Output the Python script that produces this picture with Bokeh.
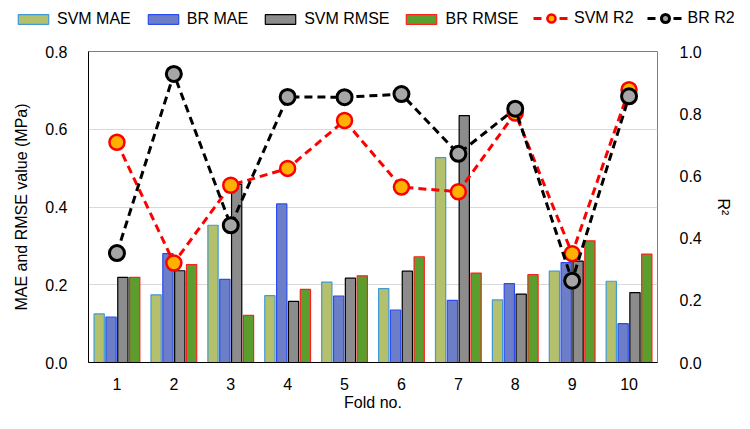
from bokeh.plotting import figure
from bokeh.models import (Range1d, LinearAxis, Legend, LegendItem, ColumnDataSource,
                          FixedTicker, PrintfTickFormatter)
from bokeh.transform import dodge
from bokeh.embed import file_html
from bokeh.resources import INLINE

folds = [1, 2, 3, 4, 5, 6, 7, 8, 9, 10]
fold_labels = ["1", "2", "3", "4", "5", "6", "7", "8", "9", "10"]
svm_mae = [0.125, 0.174, 0.353, 0.172, 0.207, 0.190, 0.527, 0.161, 0.235, 0.209]
br_mae = [0.117, 0.280, 0.214, 0.408, 0.171, 0.135, 0.160, 0.203, 0.257, 0.100]
svm_rmse = [0.219, 0.236, 0.458, 0.157, 0.217, 0.235, 0.635, 0.176, 0.261, 0.180]
br_rmse = [0.219, 0.252, 0.121, 0.188, 0.223, 0.272, 0.230, 0.226, 0.313, 0.279]
svm_r2 = [0.708, 0.320, 0.570, 0.624, 0.778, 0.564, 0.549, 0.802, 0.350, 0.877]
br_r2 = [0.352, 0.928, 0.441, 0.854, 0.853, 0.863, 0.671, 0.816, 0.263, 0.856]
series_names = ["SVM MAE", "BR MAE", "SVM RMSE", "BR RMSE", "SVM R2", "BR R2"]

src = ColumnDataSource(dict(fold=folds, svm_mae=svm_mae, br_mae=br_mae,
                            svm_rmse=svm_rmse, br_rmse=br_rmse,
                            svm_r2=svm_r2, br_r2=br_r2))

FONT = "Liberation Sans"
BAR_STYLES = [
    dict(fill_color="#b4c06c", line_color="#3f9ad6"),
    dict(fill_color="#6d7ec8", line_color="#2b4cf0"),
    dict(fill_color="#8c8c8c", line_color="#000000"),
    dict(fill_color="#5c9e2e", line_color="#ff2020"),
]
LINE_STYLES = [
    (dict(line_color="#ff0000", line_width=3, line_dash="8 5"),
     dict(fill_color="#ffb000", line_color="#ff0000", line_width=2.5)),
    (dict(line_color="#000000", line_width=3, line_dash="8 5"),
     dict(fill_color="#a6a6a6", line_color="#000000", line_width=3)),
]
bar_cols = ["svm_mae", "br_mae", "svm_rmse", "br_rmse"]
line_cols = ["svm_r2", "br_r2"]

W, H = 734, 413
LEG_H = 36
BL, BR = 88, 69

# ---------------- main chart ----------------
p = figure(width=W, height=H - LEG_H, x_range=Range1d(0.5, 10.5), y_range=Range1d(0, 0.8),
           output_backend="svg", toolbar_location=None,
           min_border_left=BL, min_border_right=BR, min_border_top=51 - LEG_H,
           min_border_bottom=51)
p.extra_y_ranges = {"r2": Range1d(0, 1.0)}

p.outline_line_color = "#7f7f7f"
p.outline_line_width = 1
p.xgrid.grid_line_color = None
p.ygrid.grid_line_color = "#d9d9d9"
p.ygrid.grid_line_width = 1

ya = p.yaxis[0]
ya.ticker = FixedTicker(ticks=[0, 0.2, 0.4, 0.6, 0.8])
ya.formatter = PrintfTickFormatter(format="%.1f")
ya.axis_label = "MAE and RMSE value (MPa)"
xa = p.xaxis[0]
xa.ticker = FixedTicker(ticks=folds)
xa.major_label_overrides = {f: l for f, l in zip(folds, fold_labels)}
xa.axis_label = "Fold no."
ra = LinearAxis(y_range_name="r2", ticker=FixedTicker(ticks=[0, 0.2, 0.4, 0.6, 0.8, 1.0]),
                formatter=PrintfTickFormatter(format="%.1f"), axis_label="R\u00b2")
p.add_layout(ra, "right")

for ax in [ya, xa, ra]:
    ax.major_tick_line_color = None
    ax.minor_tick_line_color = None
    ax.major_label_text_font = FONT
    ax.major_label_text_font_size = "16px"
    ax.major_label_text_color = "#000000"
    ax.axis_label_text_font = FONT
    ax.axis_label_text_font_size = "16px"
    ax.axis_label_text_font_style = "normal"
    ax.axis_label_text_color = "#000000"
ya.axis_line_color = "#000000"
xa.axis_line_color = "#000000"
ra.axis_line_color = None
ya.major_label_standoff = 15
ya.axis_label_standoff = 12
ra.major_label_standoff = 16
ra.axis_label_standoff = 10
xa.major_label_standoff = 9
xa.axis_label_standoff = 1

bw = 0.18
offsets = [-0.312, -0.104, 0.104, 0.312]
for off, col, st in zip(offsets, bar_cols, BAR_STYLES):
    p.vbar(x=dodge("fold", off), top=col, width=bw, source=src, line_width=1.2, **st)

for col, (lst, sst) in zip(line_cols, LINE_STYLES):
    p.line("fold", col, source=src, y_range_name="r2", **lst)
    p.scatter("fold", col, source=src, y_range_name="r2", size=15, **sst)

# ---------------- legend strip (hidden copies of the series, legend only) -------------
lg = figure(width=W, height=LEG_H, x_range=Range1d(0.5, 10.5), y_range=Range1d(0, 1),
            output_backend="svg", toolbar_location=None,
            min_border_left=0, min_border_right=0, min_border_top=0, min_border_bottom=0,
            x_axis_type=None, y_axis_type=None)
lg.outline_line_color = None
lg.grid.grid_line_color = None
bar_items = []
for off, col, st, name in zip(offsets, bar_cols, BAR_STYLES, series_names[:4]):
    r = lg.vbar(x=dodge("fold", off), top=col, width=bw, source=src, line_width=1.2,
                visible=False, **st)
    bar_items.append(LegendItem(label=name, renderers=[r]))
line_items = []
for col, (lst, sst), name in zip(line_cols, LINE_STYLES, series_names[4:]):
    rl = lg.line("fold", col, source=src, visible=False, **lst)
    rs = lg.scatter("fold", col, source=src, size=15, visible=False, **sst)
    line_items.append(LegendItem(label=name, renderers=[rl, rs]))

common = dict(orientation="horizontal", label_standoff=5, spacing=13, padding=0, margin=0,
              border_line_color=None, background_fill_alpha=0, label_text_font=FONT,
              label_text_font_size="16px", label_text_color="#000000",
              inactive_fill_alpha=0)
leg1 = Legend(items=bar_items, location=(14, 8), glyph_width=38, glyph_height=12, **common)
leg2 = Legend(items=line_items, location=(533, 8), glyph_width=36, glyph_height=20, **common)
lg.add_layout(leg1)
lg.add_layout(leg2)

open("out.html", "w").write(file_html([lg, p], INLINE))
